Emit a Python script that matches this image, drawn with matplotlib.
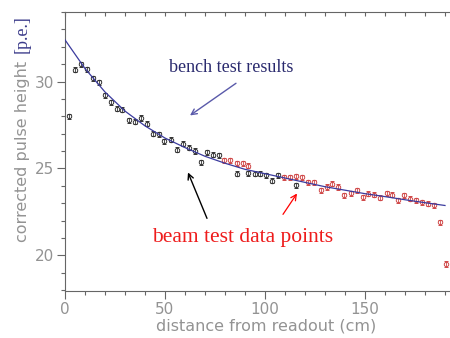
import matplotlib
matplotlib.use("Agg")
import matplotlib.pyplot as plt
from matplotlib.ticker import MultipleLocator

# bench test fit curve
fit_x = [0, 10, 20, 30, 40, 50, 60, 70, 80, 90, 100, 110, 120, 130, 140, 150, 160, 170, 180, 190]
fit_y = [32.4, 30.75, 29.4, 28.3, 27.45, 26.75, 26.2, 25.7, 25.3, 24.95, 24.7, 24.45, 24.2,
         23.95, 23.75, 23.55, 23.38, 23.2, 23.03, 22.87]

# beam test points, first set (dark)
dark_x = [2.2, 5, 8, 10.8, 13.8, 17, 20, 22.8, 25.8, 28.7, 31.8, 34.8, 37.8, 40.8, 43.8,
          46.8, 49.7, 52.8, 55.8, 58.8, 62, 65, 68, 70.8, 73.8, 76.8, 85.8, 91.7, 95,
          97.5, 100.5, 103.3, 106.3, 115.3]
dark_y = [28.0, 30.67, 30.98, 30.7, 30.19, 29.96, 29.2, 28.8, 28.43, 28.39, 27.76, 27.7,
          27.9, 27.57, 27.0, 26.97, 26.57, 26.65, 26.07, 26.42, 26.19, 26.0, 25.36, 25.94,
          25.8, 25.75, 24.7, 24.73, 24.7, 24.7, 24.6, 24.3, 24.6, 24.02]

# beam test points, second set (red)
red_x = [79.7, 82.5, 86, 88.8, 91.7, 109.7, 112.5, 115.3, 118.3, 121.7, 124.7, 128, 130.8,
         133.7, 136.7, 139.5, 142.8, 145.8, 148.8, 151.7, 154.7, 157.5, 160.8, 163.5, 166.7,
         169.5, 172.5, 175.5, 178.3, 181.7, 184.5, 187.5, 190.3]
red_y = [25.46, 25.46, 25.3, 25.3, 25.17, 24.5, 24.5, 24.54, 24.5, 24.2, 24.2, 23.74, 23.93,
         24.12, 23.93, 23.45, 23.58, 23.74, 23.35, 23.55, 23.49, 23.32, 23.58, 23.5, 23.16,
         23.45, 23.26, 23.16, 23.06, 22.97, 22.87, 21.9, 19.5]

err = 0.15
gray = "#939393"

fig = plt.figure(figsize=(4.5, 3.38), dpi=100)
ax = fig.add_axes([0.1444, 0.139, 0.8556, 0.8255])

ax.plot(fit_x, fit_y, color="#3b3b9e", lw=0.9, zorder=3)
ax.errorbar(dark_x, dark_y, yerr=err, fmt="o", ms=3.2, mfc="none", mec="#333333",
            ecolor="#333333", elinewidth=0.6, capsize=1.5, mew=0.7, zorder=2)
ax.errorbar(red_x, red_y, yerr=err, fmt="o", ms=3.2, mfc="none", mec="#d04848",
            ecolor="#d04848", elinewidth=0.6, capsize=1.5, mew=0.7, zorder=2)

ax.set_xlim(0, 192.5)
ax.set_ylim(17.95, 34)
ax.xaxis.set_major_locator(MultipleLocator(50))
ax.xaxis.set_minor_locator(MultipleLocator(10))
ax.yaxis.set_major_locator(MultipleLocator(5))
ax.yaxis.set_minor_locator(MultipleLocator(1))

for s in ["left", "bottom", "top"]:
    ax.spines[s].set_color("#666666")
    ax.spines[s].set_linewidth(0.8)
ax.spines["right"].set_visible(False)

ax.tick_params(which="major", direction="out", length=6, width=0.8, color="#666666",
               labelcolor=gray, labelsize=11, pad=2)
ax.tick_params(which="minor", direction="out", length=3, width=0.8, color="#666666")

top = ax.secondary_xaxis("top")
top.xaxis.set_major_locator(MultipleLocator(10))
top.tick_params(direction="in", length=3, width=0.8, color="#666666", labeltop=False)
top.spines["top"].set_visible(False)

fig.text(0.591, 0.036, "distance from readout (cm)", color=gray, fontsize=11.5,
         ha="center", va="center")
fig.text(0.049, 0.553, "corrected pulse height", color=gray, fontsize=11.5,
         rotation=90, ha="center", va="center")
fig.text(0.049, 0.899, "[p.e.]", color="#3b3b8a", fontsize=13, family="Liberation Serif",
         rotation=90, ha="center", va="center")

ax.text(83, 30.8, "bench test results", color="#2a2a6e", fontsize=13,
        family="Liberation Serif", ha="center", va="center")
ax.annotate("", xy=(62.5, 28.05), xytext=(85.5, 29.9),
            arrowprops=dict(arrowstyle="->", color="#5a5aaa", lw=1.0, shrinkA=0, shrinkB=0))
ax.annotate("", xy=(61.5, 24.77), xytext=(71, 22.13),
            arrowprops=dict(arrowstyle="->", color="black", lw=1.0, shrinkA=0, shrinkB=0))
ax.annotate("", xy=(116, 23.56), xytext=(109, 22.36),
            arrowprops=dict(arrowstyle="->", color="red", lw=0.9, shrinkA=0, shrinkB=0))
ax.text(89, 21.03, "beam test data points", color="#ee1c1c", fontsize=15.5,
        family="Liberation Serif", ha="center", va="center")

fig.savefig("out.png", dpi=100)
